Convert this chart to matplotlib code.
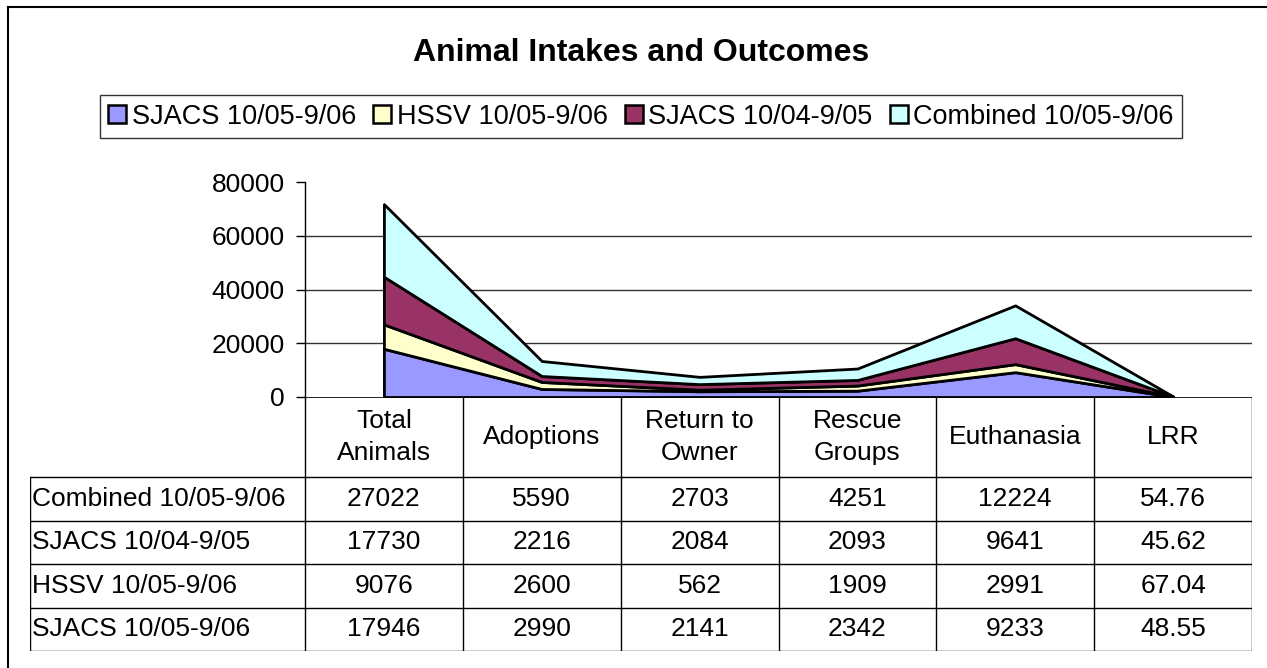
import matplotlib
matplotlib.use("Agg")
import matplotlib.pyplot as plt
from matplotlib.lines import Line2D
from matplotlib.patches import Patch

plt.rcParams['font.family'] = ['Liberation Sans', 'DejaVu Sans']

categories = ["Total\nAnimals", "Adoptions", "Return to\nOwner", "Rescue\nGroups", "Euthanasia", "LRR"]
series_names = ["SJACS 10/05-9/06", "HSSV 10/05-9/06", "SJACS 10/04-9/05", "Combined 10/05-9/06"]
sjacs_0506 = [17946, 2990, 2141, 2342, 9233, 48.55]
hssv_0506 = [9076, 2600, 562, 1909, 2991, 67.04]
sjacs_0405 = [17730, 2216, 2084, 2093, 9641, 45.62]
combined_0506 = [27022, 5590, 2703, 4251, 12224, 54.76]
series_values = [sjacs_0506, hssv_0506, sjacs_0405, combined_0506]
colors = ["#9999FF", "#FFFFCC", "#993366", "#CCFFFF"]
y_ticks = [0, 20000, 40000, 60000, 80000]

W, H = 1267, 668
fig = plt.figure(figsize=(W / 100, H / 100), dpi=100)

def fx(x):
    return x / W

def fy(y):
    return 1 - y / H

FS = 19

# figure border (left and top visible)
fig.add_artist(Line2D([fx(8), fx(8)], [0, fy(7)], color='black', lw=1.5, transform=fig.transFigure))
fig.add_artist(Line2D([fx(8), 1], [fy(7), fy(7)], color='black', lw=1.5, transform=fig.transFigure))

# title
fig.text(fx(641), fy(53), "Animal Intakes and Outcomes", ha='center', va='center',
         fontsize=23, fontweight='bold')

# main plot
ax_l, ax_r, ax_t, ax_b = 305, 1252, 182, 397
ax = fig.add_axes([fx(ax_l), fy(ax_b), fx(ax_r - ax_l), (ax_b - ax_t) / H])
xs = list(range(len(categories)))
ax.stackplot(xs, *series_values, colors=colors, edgecolor='black', linewidth=2.0)
ax.set_xlim(-0.5, len(categories) - 0.5)
ax.set_ylim(0, 80000)
ax.set_yticks(y_ticks)
ax.set_yticklabels([str(v) for v in y_ticks], fontsize=FS)
ax.tick_params(axis='y', direction='out', length=6.5, width=1, pad=8)
ax.set_xticks([])
for v in y_ticks[1:-1]:
    ax.axhline(v, color='#333333', lw=1.0, zorder=0)
ax.spines['top'].set_visible(False)
ax.spines['right'].set_visible(False)
ax.spines['bottom'].set_visible(False)
ax.spines['left'].set_linewidth(1.0)
ax.set_facecolor('none')

# legend
handles = [Patch(facecolor=c, edgecolor='black', linewidth=1.8) for c in colors]
leg = fig.legend(handles, series_names, loc='center', bbox_to_anchor=(fx(641), fy(116.5)),
                 ncol=4, fontsize=19.5, frameon=True, fancybox=False, handlelength=0.65,
                 handleheight=0.65, handletextpad=0.2, columnspacing=0.65,
                 borderpad=0.3, borderaxespad=0)
leg.get_frame().set_edgecolor('black')
leg.get_frame().set_linewidth(1.0)

# data table
tbl_l, tbl_t, tbl_b = 30, 397, 651
colw = (ax_r - ax_l) / len(categories)
label_w = (ax_l - tbl_l) / colw
header_h = 80 / 43.5
n_rows = len(series_values)
tax = fig.add_axes([fx(tbl_l), fy(tbl_b), fx(ax_r - tbl_l), (tbl_b - tbl_t) / H])
tax.set_xlim(-0.5 - label_w, len(categories) - 0.5)
tax.set_ylim(header_h + n_rows, 0)
tax.axis('off')
lc = 'black'
lw = 1.0
x0 = -0.5
x1 = len(categories) - 0.5
xl = -0.5 - label_w
tax.plot([x0, x1], [0, 0], color=lc, lw=1.2)
for i in range(len(categories) + 1):
    tax.plot([x0 + i, x0 + i], [0, header_h + n_rows], color=lc, lw=lw)
for r in range(n_rows + 1):
    tax.plot([xl, x1], [header_h + r, header_h + r], color=lc, lw=lw)
tax.plot([xl, xl], [header_h, header_h + n_rows], color=lc, lw=lw)
for i, c in enumerate(categories):
    tax.text(i, header_h / 2, c, ha='center', va='center', fontsize=FS, linespacing=1.45)
table_order = list(range(n_rows))[::-1]
for r, si in enumerate(table_order):
    yc = header_h + r + 0.5
    tax.text(xl + 0.015, yc, series_names[si], ha='left', va='center', fontsize=FS)
    for i, v in enumerate(series_values[si]):
        tax.text(i, yc, f"{v:g}", ha='center', va='center', fontsize=FS)

fig.savefig("out.png", dpi=100)
